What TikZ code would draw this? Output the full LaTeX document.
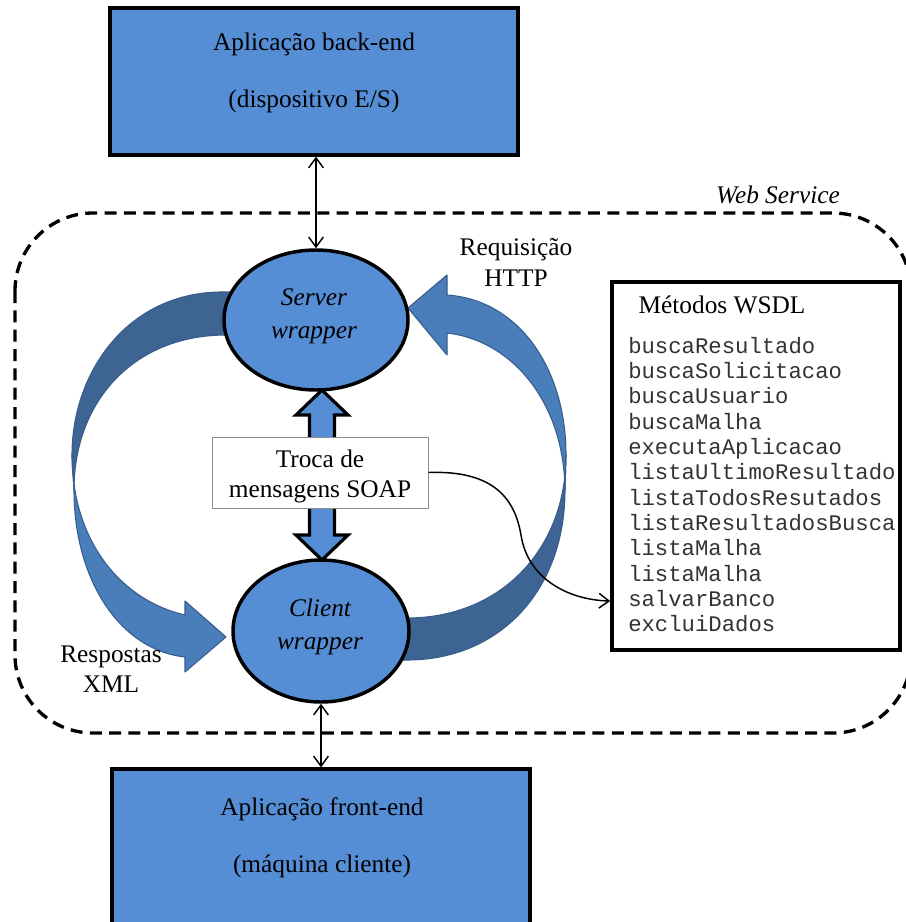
\documentclass[tikz,border=0pt]{standalone}
\usepackage{fontspec}
\setmainfont{Liberation Serif}
\setmonofont{Liberation Mono}
\usetikzlibrary{arrows.meta,calc,shapes.geometric}

\definecolor{boxblue}{RGB}{85,142,213}
\definecolor{arrowfront}{RGB}{74,126,187}
\definecolor{arrowback}{RGB}{62,100,148}
\definecolor{arrowedge}{RGB}{56,93,138}

\begin{document}
\begin{tikzpicture}[x=0.75pt,y=-0.75pt,
  appbox/.style={draw=black, line width=2.4pt, fill=boxblue, rectangle, inner sep=0pt},
  wrapper/.style={draw=black, line width=2.6pt, fill=boxblue, ellipse, inner sep=0pt},
  txt/.style={font=\fontsize{19}{21}\selectfont, anchor=base, inner sep=0pt},
  itxt/.style={font=\fontsize{19}{21}\selectfont\itshape, anchor=base, inner sep=0pt},
  mono/.style={font=\ttfamily\fontsize{16.7}{19}\selectfont, anchor=base west, inner sep=0pt, text=black!80},
  barb/.tip={Straight Barb[length=7.5pt,width=11pt]},
  link/.style={line width=1.1pt, barb-barb},
  bandfront/.style={fill=arrowfront, draw=arrowedge, line width=0.8pt, line join=round},
  bandback/.style={fill=arrowback, draw=arrowedge, line width=0.8pt, line join=round},
]
\useasboundingbox (0,0) rectangle (906,922);
\clip (0,0) rectangle (906,922);

% Web Service boundary
\draw[line width=2.5pt, dash pattern=on 9pt off 5.5pt, rounded corners=58.5pt]
  (15,213) rectangle (911,733);
\node[itxt] (wslabel) at (778,203) {Web Service};

% left curved arrow (responses), back half then front half
\path[bandback] (235,292) -- (226,292) .. controls (130,290) and (72,370) .. (72,455)
  -- (74,490) .. controls (74,400) and (135,335) .. (226,335) -- (235,335) -- cycle;
\path[bandfront] (72,455) .. controls (72,540) and (120,600) .. (185,615)
  -- (185,601) -- (226,637) -- (185,672) -- (185,657)
  .. controls (120,650) and (74,580) .. (74,490) -- cycle;

% right curved arrow (requests), front half then back half
\path[bandfront] (447,295) .. controls (520,300) and (566,370) .. (566,455)
  -- (565,490) .. controls (564,400) and (510,340) .. (447,333)
  -- (447,355) -- (408,308) -- (447,275) -- cycle;
\path[bandback] (566,455) .. controls (566,550) and (500,618) .. (407,618)
  -- (395,618) -- (395,660) -- (407,660)
  .. controls (500,660) and (565,590) .. (565,490) -- cycle;

% wrappers
\node[wrapper, minimum width=138pt, minimum height=105pt] (server) at (316,320) {};
\node[wrapper, minimum width=132pt, minimum height=106.5pt] (client) at (321,631) {};
\node[itxt] (srv1) at (314,305) {Server};
\node[itxt] (srv2) at (314,338) {wrapper};
\node[itxt] (cli1) at (320,616) {Client};
\node[itxt] (cli2) at (320,649) {wrapper};

% SOAP exchange double arrow
\path[draw=black, line width=2.4pt, fill=boxblue, line join=miter]
  (322,390) -- (348,415) -- (334.5,415) -- (334.5,535) -- (348,535) -- (322,560)
  -- (296,535) -- (309.5,535) -- (309.5,415) -- (296,415) -- cycle;
\node[draw=black!45, line width=0.75pt, fill=white, minimum width=162pt, minimum height=53.25pt, inner sep=0pt] (soap) at (320,472.5) {};
\node[txt] (soap1) at (320,467) {Troca de};
\node[txt] (soap2) at (320,497) {mensagens SOAP};

% applications
\node[appbox, minimum width=306pt, minimum height=110.25pt] (backend) at (314,81.5) {};
\node[txt] (back1) at (314,50) {Aplicação back-end};
\node[txt] (back2) at (314,107) {(dispositivo E/S)};
\node[appbox, minimum width=313.5pt, minimum height=128.25pt] (frontend) at (321,854.5) {};
\node[txt] (front1) at (322,815) {Aplicação front-end};
\node[txt] (front2) at (322,872) {(máquina cliente)};

\draw[link] (backend.south -| server.north) -- (server.north);
\draw[link] (client.south) -- (client.south |- frontend.north);

% flow labels
\node[txt] (req1) at (516,255) {Requisição};
\node[txt] (req2) at (516,286) {HTTP};
\node[txt] (resp1) at (111,662) {Respostas};
\node[txt] (resp2) at (111,692) {XML};

% WSDL methods
\node[draw=black, line width=2.6pt, fill=white, minimum width=216pt, minimum height=276pt, inner sep=0pt] (wsdl) at (756,466) {};
\node[txt] (wsdltitle) at (722,313) {Métodos WSDL};
\foreach \m [count=\i from 0] in {buscaResultado,buscaSolicitacao,buscaUsuario,buscaMalha,executaAplicacao,listaUltimoResultado,listaTodosResutados,listaResultadosBusca,listaMalha,listaMalha,salvarBanco,excluiDados}
  \node[mono] (m\i) at (628,{353+25.36*\i}) {\m};

\coordinate (wsdlin) at ($(wsdl.west)+(0,135)$);
\draw[line width=1.1pt, -barb] (soap.east) .. controls (495,470) and (515,500) .. (521,535)
  .. controls (528,580) and (570,600) .. (wsdlin);
\end{tikzpicture}
\end{document}
